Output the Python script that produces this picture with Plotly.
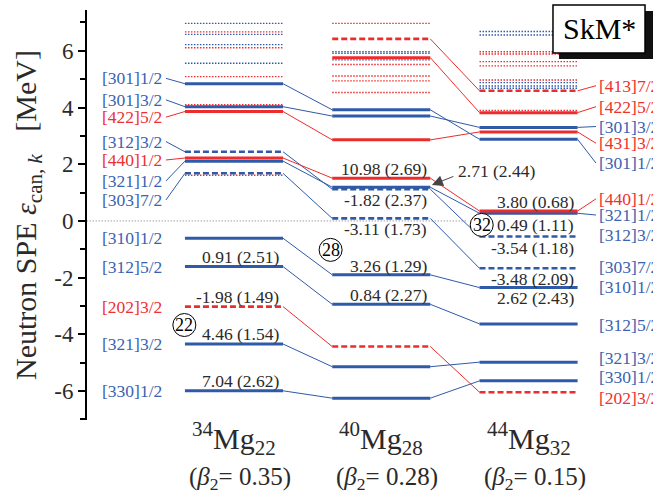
import plotly.graph_objects as go

# ---------------- data ----------------
mass_numbers = ["34", "40", "44"]
neutron_numbers = ["22", "28", "32"]
beta2 = ["0.35", "0.28", "0.15"]
magic_numbers = ["22", "28", "32"]
force_name = "SkM*"

# tracked orbits through 34Mg -> 40Mg -> 44Mg
orbit_left = ["[301]1/2", "[301]3/2", "[422]5/2", "[312]3/2", "[440]1/2", "[321]1/2", "[303]7/2",
              "[310]1/2", "[312]5/2", "[202]3/2", "[321]3/2", "[330]1/2", None, None]
orbit_right = ["[301]1/2", "[301]3/2", "[431]3/2", "[312]3/2", "[440]1/2", "[321]1/2", "[303]7/2",
               "[310]1/2", "[312]5/2", "[202]3/2", "[321]3/2", "[330]1/2", "[413]7/2", "[422]5/2"]
orbit_parity = ["-", "-", "+", "-", "+", "-", "-", "-", "-", "+", "-", "-", "+", "+"]
orbit_class = ["A", "A", "A", "B", "A", "A", "B", "A", "A", "B", "A", "A", "B", "A"]
mg34_e = [4.84, 4.03, 3.86, 2.44, 2.22, 2.11, 1.68, -0.61, -1.61, -3.02, -4.34, -5.99, None, None]
mg40_e = [3.92, 3.70, 2.86, 1.12, 1.51, 1.19, 0.09, -1.90, -2.94, -4.43, -5.14, -6.25, 6.42, 5.76]
mg44_e = [2.88, 3.30, 3.14, -0.55, 0.35, 0.27, -1.67, -2.35, -3.63, -6.04, -4.98, -5.64, 4.59, 3.82]

# weakly bound / continuum levels (dotted)
mg34_cont_e = [6.97, 6.67, 6.58, 6.22, 6.11, 5.56, 5.09, 4.10, 1.61]
mg34_cont_p = ["-", "+", "-", "-", "+", "-", "+", "+", "+"]
mg40_cont_e = [6.97, 5.97, 5.91, 5.68, 5.52, 5.11, 4.94, 4.53]
mg40_cont_p = ["+", "-", "-", "-", "+", "+", "+", "+"]
mg44_cont_e = [6.68, 6.56, 5.97, 5.89, 5.62, 5.47, 4.97, 4.88, 4.76, 4.68, 3.90]
mg44_cont_p = ["-", "-", "+", "+", "+", "+", "+", "-", "-", "-", "+"]

mg34_vals = ["0.91 (2.51)", "-1.98 (1.49)", "4.46 (1.54)", "7.04 (2.62)"]
mg40_vals = ["10.98 (2.69)", "-1.82 (2.37)", "-3.11 (1.73)", "3.26 (1.29)", "0.84 (2.27)"]
mg40_arrow_val = "2.71 (2.44)"
mg44_vals = ["3.80 (0.68)", "0.49 (1.11)", "-3.54 (1.18)", "-3.48 (2.09)", "2.62 (2.43)"]

y_tickvals = [-6, -4, -2, 0, 2, 4, 6]
y_ticktext = ["-6", "-4", "-2", "0", "2", "4", "6"]

# ---------------- layout constants ----------------
BLUE = "#2f5aa8"
RED = "#ee2c2c"
TXT_BLUE = "#3a62b2"
TXT_RED = "#ee3030"
INK = "#2a2a2a"
SERIF = "Liberation Serif, Times New Roman, serif"
HALF = 0.333

left_label_y = [5.03, 4.27, 3.66, 2.80, 2.15, 1.41, 0.74, -0.61, -1.61, -3.02, -4.34, -5.99]
left_leader = [True] * 7 + [False] * 5
right_label_y = [2.04, 3.33, 2.74, -0.49, 0.78, 0.21, -1.61, -2.32, -3.67, -6.24, -4.83, -5.49, 4.77, 4.03]
right_leader = [True, True, True, False, True, True, False, False, False, False, False, False, True, True]
mg34_val_y = [-1.26, -2.69, -3.99, -5.63]
mg40_val_y = [1.82, 0.74, -0.29, -1.58, -2.61]
mg44_val_y = [0.68, -0.14, -0.96, -2.05, -2.73]
magic_pos = [(-0.337, -3.67), (0.656, -1.02), (1.682, -0.14)]


def pcol(p):
    return RED if p == "+" else BLUE


fig = go.Figure()

# zero line
fig.add_trace(go.Scatter(x=[-1.0, 1.58], y=[0, 0], mode="lines",
                         line=dict(color="#777777", width=1, dash="1px,2px"),
                         hoverinfo="skip", showlegend=False))

energies = [mg34_e, mg40_e, mg44_e]

# connectors and leaders
for par in "-+":
    xs, ys = [], []
    for k in range(len(orbit_parity)):
        if orbit_parity[k] != par:
            continue
        for c in range(2):
            e0, e1 = energies[c][k], energies[c + 1][k]
            if e0 is None or e1 is None:
                continue
            xs += [c + HALF, c + 1 - HALF, None]
            ys += [e0, e1, None]
        if k < len(left_leader) and left_leader[k]:
            xs += [-0.462, -HALF, None]
            ys += [left_label_y[k], mg34_e[k], None]
        if right_leader[k]:
            xs += [2 + HALF, 2.458, None]
            ys += [mg44_e[k], right_label_y[k], None]
    fig.add_trace(go.Scatter(x=xs, y=ys, mode="lines", line=dict(color=pcol(par), width=1),
                             hoverinfo="skip", showlegend=False))

# continuum dotted levels
conts = [(mg34_cont_e, mg34_cont_p), (mg40_cont_e, mg40_cont_p), (mg44_cont_e, mg44_cont_p)]
for par in "-+":
    xs, ys = [], []
    for c, (ee, pp) in enumerate(conts):
        for e, p in zip(ee, pp):
            if p == par:
                xs += [c - HALF, c + HALF, None]
                ys += [e, e, None]
    fig.add_trace(go.Scatter(x=xs, y=ys, mode="lines",
                             line=dict(color=pcol(par), width=1.4, dash="1.5px,1.5px"),
                             hoverinfo="skip", showlegend=False))

# main levels
for cls, dash, width in [("B", "6px,3px", 2.6), ("A", "solid", 3)]:
    for par in "-+":
        xs, ys = [], []
        for c in range(3):
            for k in range(len(orbit_parity)):
                e = energies[c][k]
                if e is None or orbit_parity[k] != par or orbit_class[k] != cls:
                    continue
                xs += [c - HALF, c + HALF, None]
                ys += [e, e, None]
        fig.add_trace(go.Scatter(x=xs, y=ys, mode="lines",
                                 line=dict(color=pcol(par), width=width, dash=dash),
                                 hoverinfo="skip", showlegend=False))

ann = []
# left labels
for k, lab in enumerate(orbit_left):
    if lab is None:
        continue
    ann.append(dict(x=-0.475, y=left_label_y[k], xref="x", yref="y", text=lab, showarrow=False,
                    xanchor="right", yanchor="middle",
                    font=dict(family=SERIF, size=17.5,
                              color=TXT_RED if orbit_parity[k] == "+" else TXT_BLUE)))
# right labels
for k, lab in enumerate(orbit_right):
    ann.append(dict(x=2.465, y=right_label_y[k], xref="x", yref="y", text=lab, showarrow=False,
                    xanchor="left", yanchor="middle",
                    font=dict(family=SERIF, size=17.5,
                              color=TXT_RED if orbit_parity[k] == "+" else TXT_BLUE)))
# value labels
for c, (vals, vy) in enumerate([(mg34_vals, mg34_val_y), (mg40_vals, mg40_val_y), (mg44_vals, mg44_val_y)]):
    for v, yv in zip(vals, vy):
        ann.append(dict(x=c + 0.322, y=yv, xref="x", yref="y", text=v, showarrow=False,
                        xanchor="right", yanchor="middle",
                        font=dict(family=SERIF, size=17.5, color=INK)))
ann.append(dict(x=1.507, y=1.77, xref="x", yref="y", text=mg40_arrow_val, showarrow=False,
                xanchor="left", yanchor="middle", font=dict(family=SERIF, size=17.5, color=INK)))
ann.append(dict(x=1.344, y=1.27, ax=1.50, ay=1.59, xref="x", yref="y", axref="x", ayref="y",
                text="", showarrow=True, arrowhead=2, arrowsize=2.2, arrowwidth=1,
                arrowcolor="#444444", standoff=0, startstandoff=0))
# magic numbers
shapes = []
for m, (mx, my) in zip(magic_numbers, magic_pos):
    shapes.append(dict(type="circle", xref="x", yref="y", xsizemode="pixel", ysizemode="pixel",
                       xanchor=mx, yanchor=my, x0=-11.5, x1=11.5, y0=-11.5, y1=11.5,
                       line=dict(color="black", width=1), fillcolor="white", layer="above"))
    ann.append(dict(x=mx, y=my, xref="x", yref="y", text=m, showarrow=False,
                    xanchor="center", yanchor="middle",
                    font=dict(family=SERIF, size=18, color="black")))
# nucleus labels
for c in range(3):
    ann.append(dict(x=c, y=-0.045, xref="x", yref="paper",
                    text="<sup>%s</sup>Mg<sub>%s</sub>" % (mass_numbers[c], neutron_numbers[c]),
                    showarrow=False, xanchor="center", yanchor="middle",
                    font=dict(family=SERIF, size=30, color=INK)))
    ann.append(dict(x=c, y=-0.143, xref="x", yref="paper", xshift=6,
                    text="(<i>β</i><sub>2</sub>= %s)" % beta2[c],
                    showarrow=False, xanchor="center", yanchor="middle",
                    font=dict(family=SERIF, size=25, color=INK)))
# y title
ann.append(dict(x=0, y=0.5, xref="paper", yref="paper", xshift=-59, textangle=-90,
                text="Neutron SPE <i>ε</i><sub>can, <i>k</i></sub>\u00a0\u00a0\u00a0[MeV]",
                showarrow=False, xanchor="center", yanchor="middle",
                font=dict(family=SERIF, size=30, color=INK)))
# SkM* box with shadow
shapes.append(dict(type="rect", xref="paper", yref="paper", x0=0.834, x1=1.03, y0=0.8805, y1=0.9976,
                   fillcolor="#111111", line=dict(width=0), layer="above"))
shapes.append(dict(type="rect", xref="paper", yref="paper", x0=0.8233, x1=0.9859, y0=0.8951, y1=1.0122,
                   fillcolor="white", line=dict(color="black", width=1.5), layer="above"))
ann.append(dict(x=0.9046, y=0.9537, xref="paper", yref="paper", text=force_name, showarrow=False,
                xanchor="center", yanchor="middle", font=dict(family=SERIF, size=30, color="black")))

fig.update_layout(
    width=653, height=496,
    margin=dict(l=87, r=0, t=10, b=76),
    paper_bgcolor="white", plot_bgcolor="white",
    showlegend=False,
    xaxis=dict(range=[-0.998, 2.845], visible=False, fixedrange=True),
    yaxis=dict(range=[-7.02, 7.44], showgrid=False, zeroline=False,
               showline=True, linecolor="black", linewidth=2,
               ticks="outside", ticklen=7, tickwidth=1.5, tickcolor="black",
               tickvals=y_tickvals, ticktext=y_ticktext,
               tickfont=dict(family=SERIF, size=23, color=INK),
               minor=dict(tickvals=[-7, -5, -3, -1, 1, 3, 5, 7], ticks="outside",
                          ticklen=5, tickwidth=1.5, tickcolor="black"),
               fixedrange=True),
    annotations=ann,
    shapes=shapes,
)

fig.write_html("out.html")
